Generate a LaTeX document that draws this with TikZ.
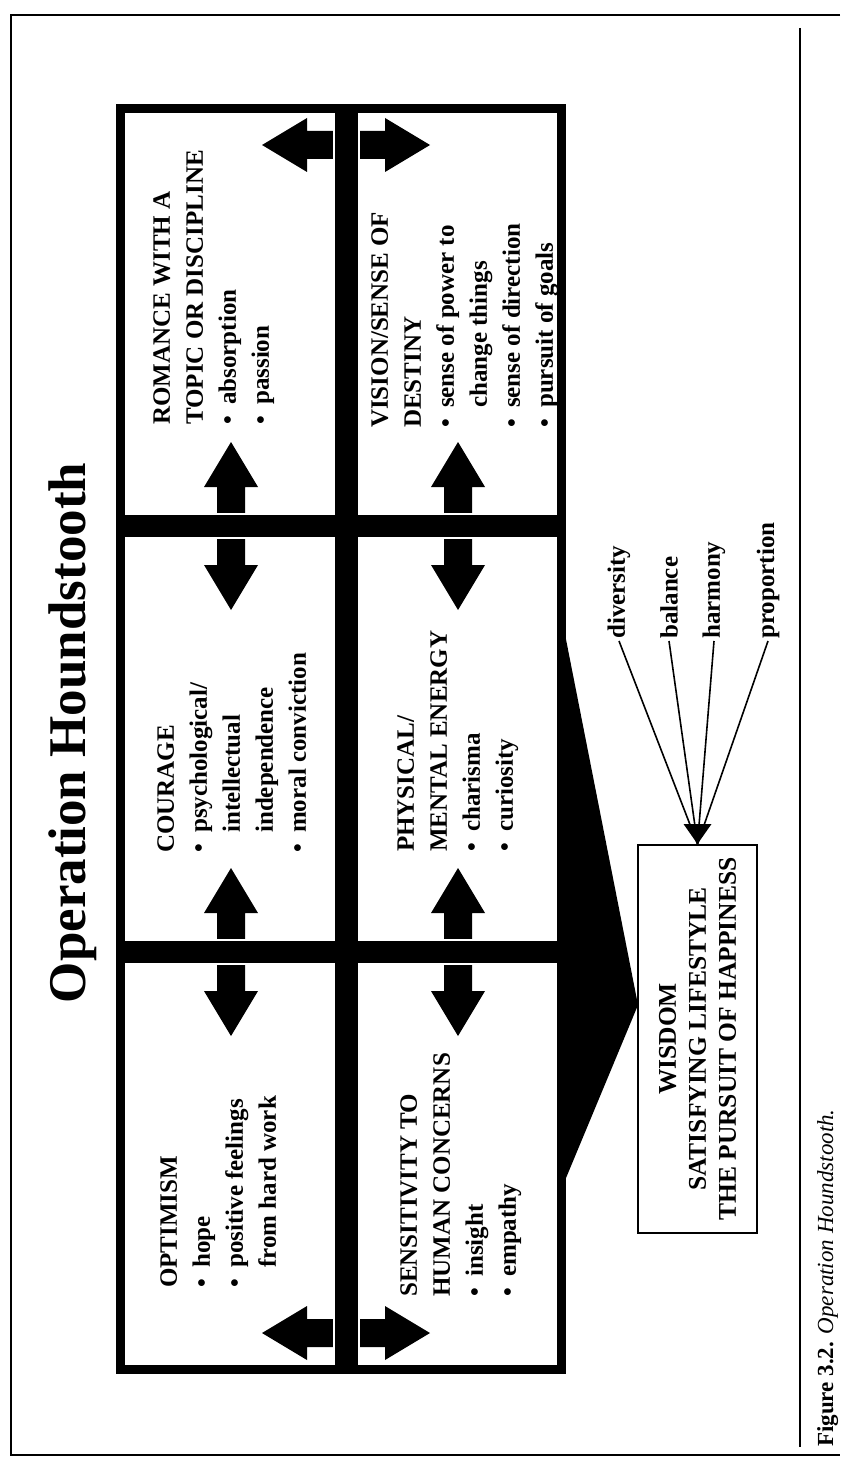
\documentclass[tikz,border=0pt]{standalone}
\usepackage{fontspec}
\setmainfont{Liberation Serif}
\usetikzlibrary{arrows.meta}

\newcommand{\cellfont}{\fontsize{25}{33}\selectfont\bfseries}
\newcommand{\itm}{\makebox[20pt][l]{\textbullet}}
\newcommand{\cnt}{\hspace*{20pt}}

\tikzset{
  cell/.style={rotate=90, anchor=north west, align=left, inner sep=0pt, font=\cellfont},
  word/.style={rotate=90, anchor=west, inner sep=2pt, font=\fontsize{25}{30}\selectfont\bfseries},
  frame/.style={line width=2pt},
  fan/.style={line width=1.6pt},
  gap/.style={fill=white},
  bar/.style={fill=black},
  dblarrow/.pic={
    \fill (-84,0) -- (-39,-27) -- (-39,-14) -- (39,-14) -- (39,-27) -- (84,0)
      -- (39,27) -- (39,14) -- (-39,14) -- (-39,27) -- cycle;
  }
}

\begin{document}
\begin{tikzpicture}[x=1pt, y=-1pt]
  \useasboundingbox (0,0) rectangle (840,1463);

  % page frame and rule before the caption
  \draw[frame] (840,15) -- (11,15) -- (11,1455) -- (840,1455);
  \coordinate (rt) at (800,28);
  \coordinate (rb) at (800,1447);
  \draw[frame] (rt) -- (rb);

  % title
  \node[rotate=90, anchor=base, inner sep=0pt, font=\fontsize{53}{60}\selectfont\bfseries] (title) at (85,733) {Operation Houndstooth};

  % double arrows across the bars
  \foreach \cx in {231,458} {
    \foreach \cy in {526,952} {
      \pic[rotate=90] at (\cx,\cy) {dblarrow};
      \fill[gap] (\cx-16,\cy-13) rectangle (\cx+16,\cy+13);
    }
  }
  \foreach \cy in {145,1333} {
    \pic at (346,\cy) {dblarrow};
    \fill[gap] (332.5,\cy-16) rectangle (359.5,\cy+16);
  }

  % bars and outer border of the grid
  \fill[bar] (116,515) rectangle (566,537);
  \fill[bar] (116,941) rectangle (566,963);
  \fill[bar] (334.5,104) rectangle (357.5,1374);
  \draw[line width=9pt] (120.5,108.5) rectangle (561.5,1369.5);

  % wedge pointing at the wisdom box
  \fill (561,614) -- (638,1005) -- (561,1190) -- cycle;

  % the six cells
  \node[cell] (rom) at (153,425) {ROMANCE WITH A\\TOPIC OR DISCIPLINE\\\itm absorption\\\itm passion};
  \node[cell] (vis) at (371,428) {VISION/SENSE OF\\DESTINY\\\itm sense of power to\\\cnt change things\\\itm sense of direction\\\itm pursuit of goals};
  \node[cell] (cour) at (157,853) {COURAGE\\\itm psychological/\\\cnt intellectual\\\cnt independence\\\itm moral conviction};
  \node[cell] (phys) at (397,852) {PHYSICAL/\\MENTAL ENERGY\\\itm charisma\\\itm curiosity};
  \node[cell] (opt) at (160,1288) {OPTIMISM\\\itm hope\\\itm positive feelings\\\cnt from hard work};
  \node[cell] (sens) at (400,1297) {SENSITIVITY TO\\HUMAN CONCERNS\\\itm insight\\\itm empathy};

  % wisdom box
  \node[draw, line width=2pt, rotate=90, minimum width=388pt, minimum height=119pt, inner sep=0pt,
    align=center, font=\fontsize{25.5}{30}\selectfont\bfseries] (wis) at (697.5,1039)
    {WISDOM\\SATISFYING LIFESTYLE\\THE PURSUIT OF HAPPINESS};

  % the four qualities feeding into it
  \node[word] (dv) at (619,641) {diversity};
  \node[word] (bl) at (669,641) {balance};
  \node[word] (hm) at (714,641) {harmony};
  \node[word] (pp) at (768,641) {proportion};
  \foreach \w in {dv,bl,hm,pp}
    \draw[fan] (\w.west) -- (wis.east);
  \fill (wis.east) -- ++(-14,-20) -- ++(28,0) -- cycle;

  % caption
  \node[rotate=90, anchor=base west, inner sep=0pt, font=\fontsize{23}{27}\selectfont] (cap) at (833,1447)
    {\textbf{Figure 3.2.} \textit{Operation Houndstooth.}};
\end{tikzpicture}
\end{document}
